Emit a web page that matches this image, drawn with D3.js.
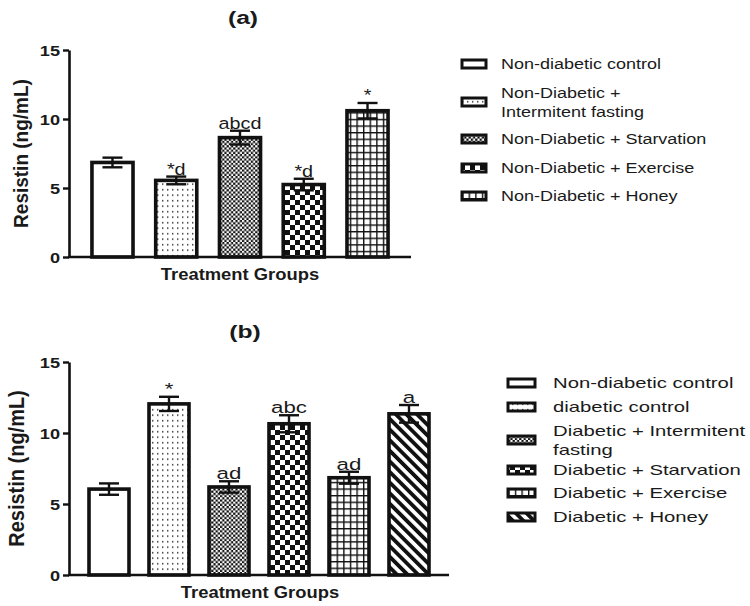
<!DOCTYPE html>
<html>
<head>
<script src="https://d3js.org/d3.v7.min.js"></script>
<style>
  body { margin: 0; background: #fff; }
  text { font-family: "Liberation Sans", Arial, sans-serif; fill: #1a1a1a; }
</style>
</head>
<body>
<div id="chart"></div>
<script>
// ---- data ----
var groupsA = ["Non-diabetic control", "Non-Diabetic +\nIntermitent fasting", "Non-Diabetic + Starvation",
               "Non-Diabetic + Exercise", "Non-Diabetic + Honey"];
var meansA = [6.85, 5.55, 8.65, 5.25, 10.6];
var errA   = [0.35, 0.28, 0.5, 0.42, 0.56];
var sigA   = ["", "*d", "abcd", "*d", "*"];

var groupsB = ["Non-diabetic control", "diabetic control", "Diabetic + Intermitent\nfasting",
               "Diabetic + Starvation", "Diabetic + Exercise", "Diabetic + Honey"];
var meansB = [6.05, 12.05, 6.2, 10.65, 6.85, 11.35];
var errB   = [0.4, 0.5, 0.4, 0.6, 0.42, 0.62];
var sigB   = ["", "*", "ad", "abc", "ad", "a"];

var yTicks = [0, 5, 10, 15];

var fillsA = ["#fff", "url(#dots)", "url(#fine)", "url(#check)", "url(#grid)"];
var fillsB = ["#fff", "url(#dots)", "url(#fine)", "url(#check)", "url(#grid)", "url(#diag)"];

var W = 750, H = 606;
var svg = d3.select("#chart").append("svg").attr("width", W).attr("height", H);

// patterns
var defs = svg.append("defs");
var p = defs.append("pattern").attr("id", "dots").attr("patternUnits", "userSpaceOnUse")
  .attr("width", 5).attr("height", 5.5);
p.append("rect").attr("width", 5).attr("height", 5.5).attr("fill", "#fff");
p.append("rect").attr("x", 2).attr("y", 2).attr("width", 1.4).attr("height", 1.4).attr("fill", "#222");

p = defs.append("pattern").attr("id", "fine").attr("patternUnits", "userSpaceOnUse")
  .attr("width", 4.4).attr("height", 4.4);
p.append("rect").attr("width", 4.4).attr("height", 4.4).attr("fill", "#111");
p.append("rect").attr("width", 2.2).attr("height", 2.2).attr("fill", "#fff");
p.append("rect").attr("x", 2.2).attr("y", 2.2).attr("width", 2.2).attr("height", 2.2).attr("fill", "#fff");

p = defs.append("pattern").attr("id", "check").attr("patternUnits", "userSpaceOnUse")
  .attr("width", 10).attr("height", 10);
p.append("rect").attr("width", 10).attr("height", 10).attr("fill", "#111");
p.append("rect").attr("width", 5).attr("height", 5).attr("fill", "#fff");
p.append("rect").attr("x", 5).attr("y", 5).attr("width", 5).attr("height", 5).attr("fill", "#fff");

p = defs.append("pattern").attr("id", "grid").attr("patternUnits", "userSpaceOnUse")
  .attr("width", 6.6).attr("height", 6.6);
p.append("rect").attr("width", 6.6).attr("height", 6.6).attr("fill", "#fff");
p.append("rect").attr("width", 6.6).attr("height", 1.4).attr("fill", "#111");
p.append("rect").attr("width", 1.4).attr("height", 6.6).attr("fill", "#111");

p = defs.append("pattern").attr("id", "diag").attr("patternUnits", "userSpaceOnUse")
  .attr("width", 7.5).attr("height", 7.5).attr("patternTransform", "rotate(-45)");
p.append("rect").attr("width", 7.5).attr("height", 7.5).attr("fill", "#fff");
p.append("rect").attr("width", 3.8).attr("height", 7.5).attr("fill", "#111");

// text with horizontal stretch (the figure is wider than it is tall)
function stext(g, x, y, str, size, weight, sx, anchor) {
  return g.append("text")
    .attr("transform", "translate(" + x + "," + y + ") scale(" + sx + ",1)")
    .attr("text-anchor", anchor || "start")
    .style("font-size", size + "px")
    .style("font-weight", weight)
    .text(str);
}

function panel(cfg) {
  var g = svg.append("g");
  var x = d3.scaleBand().domain(d3.range(cfg.means.length))
    .range([cfg.left, cfg.right]).paddingInner(cfg.pin).paddingOuter(cfg.pout);
  var y = d3.scaleLinear().domain([0, 15]).range([cfg.bottom, cfg.top]);

  // bars
  g.selectAll("rect.bar").data(cfg.means).enter().append("rect")
    .attr("class", "bar")
    .attr("x", function(d, i) { return x(i); })
    .attr("y", function(d) { return y(d); })
    .attr("width", x.bandwidth())
    .attr("height", function(d) { return y(0) - y(d); })
    .attr("fill", function(d, i) { return cfg.fills[i]; })
    .attr("stroke", "#111").attr("stroke-width", 3.6);

  // error bars (up + down)
  var cap = 20;
  cfg.means.forEach(function(m, i) {
    var cx = x(i) + x.bandwidth() / 2;
    var e = cfg.errs[i];
    g.append("line").attr("x1", cx).attr("x2", cx).attr("y1", y(m - e)).attr("y2", y(m + e))
      .attr("stroke", "#111").attr("stroke-width", 2.4);
    [m + e, m - e].forEach(function(v) {
      g.append("line").attr("x1", cx - cap / 2).attr("x2", cx + cap / 2).attr("y1", y(v)).attr("y2", y(v))
        .attr("stroke", "#111").attr("stroke-width", 2.4);
    });
    if (cfg.sig[i]) stext(g, cx, y(m + e) - 2, cfg.sig[i], 16.5, "normal", cfg.sxs, "middle");
  });

  // axes
  var ax = g.append("g").attr("transform", "translate(" + cfg.left + ",0)")
    .call(d3.axisLeft(y).tickValues(yTicks).tickSize(6).tickSizeOuter(0).tickPadding(3));
  ax.select(".domain").attr("stroke", "#111").attr("stroke-width", 2.6);
  ax.selectAll(".tick line").attr("stroke", "#111").attr("stroke-width", 2.4);
  ax.selectAll(".tick text")
    .attr("x", null).attr("dy", null)
    .attr("transform", "translate(-9,5) scale(1.3,1)")
    .style("font-family", "Liberation Sans, Arial, sans-serif")
    .style("font-size", "14px").style("font-weight", "bold").attr("fill", "#1a1a1a");
  g.append("line").attr("x1", cfg.left - 1).attr("x2", cfg.right).attr("y1", cfg.bottom).attr("y2", cfg.bottom)
    .attr("stroke", "#111").attr("stroke-width", 2.6);

  // titles
  stext(g, cfg.titleX, cfg.titleY, cfg.title, 19, "bold", 1.3, "middle");
  stext(g, cfg.xlabX, cfg.xlabY, "Treatment Groups", 16, "bold", 1.15, "middle");
  g.append("text")
    .attr("transform", "translate(" + cfg.ylabX + "," + ((cfg.top + cfg.bottom) / 2) + ") rotate(-90) scale(1,1.08)")
    .attr("text-anchor", "middle")
    .style("font-size", cfg.ylabSize + "px").style("font-weight", "bold")
    .text("Resistin (ng/mL)");

  // legend
  cfg.groups.forEach(function(name, i) {
    var lines = name.split("\n");
    var yc = cfg.legY[i];
    g.append("rect").attr("x", cfg.legX).attr("y", yc - 4).attr("width", cfg.swW).attr("height", 8)
      .attr("fill", cfg.fills[i]).attr("stroke", "#111").attr("stroke-width", 3);
    var t0 = yc - (lines.length - 1) * cfg.lineH / 2;
    lines.forEach(function(l, k) {
      stext(g, cfg.legX + cfg.swW + cfg.legGap, t0 + k * cfg.lineH + cfg.legSize * 0.36, l,
            cfg.legSize, "normal", cfg.legSx, "start");
    });
  });
}

panel({
  means: meansA, errs: errA, sig: sigA, groups: groupsA, fills: fillsA,
  left: 69, right: 411, pin: 0.356, pout: 0.36, top: 50, bottom: 257,
  sxs: 1.2, title: "(a)", titleX: 243, titleY: 24,
  xlabX: 240, xlabY: 280, ylabX: 28, ylabSize: 19,
  legX: 462, swW: 24, legGap: 15, legSize: 15, legSx: 1.2, lineH: 19,
  legY: [64, 102, 139, 168, 196]
});

panel({
  means: meansB, errs: errB, sig: sigB, groups: groupsB, fills: fillsB,
  left: 69, right: 449, pin: 1 / 3, pout: 1 / 3, top: 362, bottom: 575,
  sxs: 1.35, title: "(b)", titleX: 245, titleY: 338,
  xlabX: 260, xlabY: 598, ylabX: 24, ylabSize: 20,
  legX: 508, swW: 27, legGap: 18, legSize: 14, legSx: 1.45, lineH: 19,
  legY: [383, 407, 440, 470, 493, 517]
});
</script>
</body>
</html>
